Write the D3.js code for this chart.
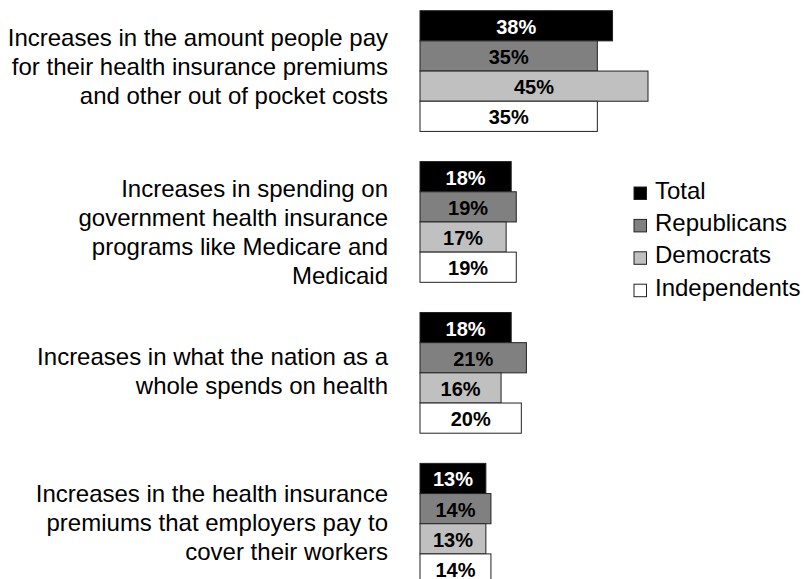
<!DOCTYPE html>
<html>
<head>
<meta charset="utf-8">
<script src="https://cdn.jsdelivr.net/npm/d3@7"></script>
<style>
  body { margin: 0; background: #fff; }
  svg { display: block; font-family: Arial, "Liberation Sans", sans-serif; }
</style>
</head>
<body>
<svg id="chart" width="804" height="579"></svg>
<script>
// categories (label lines) and series
const categories = [
  ["Increases in the amount people pay", "for their health insurance premiums", "and other out of pocket costs"],
  ["Increases in spending on", "government health insurance", "programs like Medicare and", "Medicaid"],
  ["Increases in what the nation as a", "whole spends on health"],
  ["Increases in the health insurance", "premiums that employers pay to", "cover their workers"]
];
const seriesNames = ["Total", "Republicans", "Democrats", "Independents"];
const total = [38, 18, 18, 13];
const republicans = [35, 19, 21, 14];
const democrats = [45, 17, 16, 13];
const independents = [35, 19, 20, 14];

const seriesValues = [total, republicans, democrats, independents];
const fills = ["#000000", "#808080", "#c0c0c0", "#ffffff"];
const textFills = ["#ffffff", "#000000", "#000000", "#000000"];

const svg = d3.select("#chart");
const x0 = 420;

const keys = categories.map((c, i) => "c" + i);
const y = d3.scaleBand().domain(keys).range([10.7, 584.1]).paddingInner(0.2).paddingOuter(0);
const ySub = d3.scaleBand().domain(seriesNames).range([0, y.bandwidth()]);
const x = d3.scaleLinear().domain([0, 45]).range([0, 228]);

const rows = [];
keys.forEach((k, i) => {
  seriesNames.forEach((s, j) => {
    rows.push({ key: k, series: s, j: j, value: seriesValues[j][i] });
  });
});

const g = svg.append("g");

g.selectAll("rect.bar")
  .data(rows)
  .join("rect")
  .attr("class", "bar")
  .attr("x", x0)
  .attr("y", d => y(d.key) + ySub(d.series))
  .attr("width", d => x(d.value))
  .attr("height", ySub.bandwidth())
  .attr("fill", d => fills[d.j])
  .attr("stroke", "#222")
  .attr("stroke-width", 1);

g.selectAll("text.val")
  .data(rows)
  .join("text")
  .attr("class", "val")
  .attr("x", d => x0 + x(d.value) / 2)
  .attr("y", d => y(d.key) + ySub(d.series) + ySub.bandwidth() / 2 + 8)
  .attr("text-anchor", "middle")
  .attr("font-weight", "bold")
  .attr("font-size", "20px")
  .attr("fill", d => textFills[d.j])
  .text(d => d.value + "%");

// category labels, right aligned left of bars
// the labels in the original are placed by hand, so each gets a small nudge
const labelShift = [-5, 10, -2, -1];
const lineH = 29, capH = 17.2;
categories.forEach((lines, i) => {
  const n = lines.length;
  const center = y(keys[i]) + y.bandwidth() / 2 + labelShift[i];
  const blockH = (n - 1) * lineH + capH;
  const first = center - blockH / 2 + capH;
  const t = g.append("text")
    .attr("text-anchor", "end")
    .attr("font-size", "24px")
    .attr("fill", "#000");
  lines.forEach((ln, k) => {
    t.append("tspan").attr("x", 388).attr("y", first + k * lineH).text(ln);
  });
});

// legend
const legend = svg.append("g").attr("transform", "translate(634, 187)");
const ly = d3.scaleBand().domain(seriesNames).range([0, 129.6]);
legend.selectAll("rect")
  .data(seriesNames)
  .join("rect")
  .attr("x", 0)
  .attr("y", d => ly(d))
  .attr("width", 12.5)
  .attr("height", 12.5)
  .attr("fill", (d, i) => fills[i])
  .attr("stroke", "#222")
  .attr("stroke-width", 1);
legend.selectAll("text")
  .data(seriesNames)
  .join("text")
  .attr("x", 21)
  .attr("y", d => ly(d) + 11.5)
  .attr("font-size", "24px")
  .text(d => d);
</script>
</body>
</html>
